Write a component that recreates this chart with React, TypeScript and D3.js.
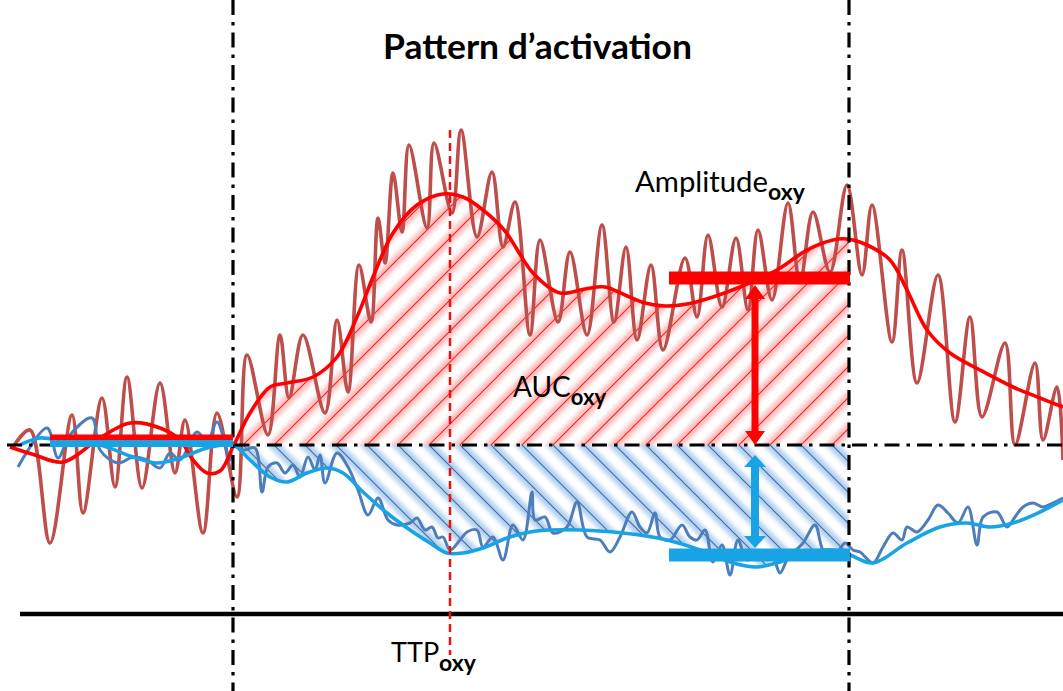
import React from "react";
import * as d3 from "d3";

const W = 1063;
const H = 691;

// time in s relative to stimulus onset, value in µM (relative to baseline)
const stimWindow = [0, 30.8];
const ttpTime = 10.85;
const baselineWindow = [-9.15, 0];
const baselineOxy = 0.375;
const baselineDeoxy = 0.075;
const amplitudeWindow = [21.8, 30.85];
const amplitudeOxy = 8.35;
const amplitudeDeoxy = -5.5;
const arrowTime = 26.1;
const arrowOxy = [0, 8.0];
const arrowDeoxy = [-0.5, -5.15];
const axisLevel = -8.45;

const redRaw: [number, number][] = [
  [-11.0, -0.1], [-10.15, 0.75], [-9.15, -4.9], [-8.05, 1.5], [-7.5, -3.4], [-6.55, 2.35],
  [-5.9, -2.1], [-5.3, 3.4], [-4.55, -2.15], [-3.65, 3.1], [-2.9, -1.4], [-2.4, 1.25],
  [-1.5, -4.4], [-0.8, 1.6], [0.2, -2.6], [0.7, 4.5], [1.75, 0.5], [2.35, 5.5], [2.8, 2.35],
  [3.5, 5.5], [4.6, 1.6], [5.2, 6.25], [5.75, 2.65], [6.3, 9.0], [6.9, 6.15], [7.25, 11.35],
  [7.6, 9.1], [8.0, 13.6], [8.45, 10.65], [8.8, 15.0], [9.7, 10.85], [10.05, 15.1],
  [10.95, 11.6], [11.4, 15.75], [12.2, 10.4], [12.95, 13.65], [13.5, 9.9], [14.1, 12.15],
  [14.85, 5.5], [15.35, 10.25], [16.25, 6.15], [16.85, 9.65], [17.7, 5.5], [18.45, 11.0],
  [19.05, 6.15], [19.65, 9.9], [20.2, 5.25], [20.9, 9.0], [21.5, 4.75], [22.6, 9.35],
  [23.2, 6.4], [23.75, 10.5], [24.45, 6.9], [25.15, 10.35], [25.75, 6.75], [26.25, 10.75],
  [26.95, 7.25], [27.75, 12.1], [28.35, 8.15], [29.0, 11.65], [29.85, 8.65], [30.7, 13.0],
  [31.45, 8.5], [31.95, 12.0], [32.95, 5.15], [33.45, 9.75], [34.2, 3.1], [35.25, 8.5],
  [36.1, 1.15], [36.85, 6.4], [37.45, 1.4], [38.6, 5.1], [39.1, 0.0], [40.1, 4.1],
  [40.5, 0.25], [41.2, 2.9], [41.5, -0.75],
];

const redSmooth: [number, number][] = [
  [-11.15, -0.1], [-9.9, -0.5], [-8.5, -0.85], [-6.65, 0.35], [-5.15, 1.1], [-3.65, 0.85],
  [-2.65, 0.25], [-2.0, -0.75], [-1.3, -1.4], [-0.65, -1.3], [0, -0.1], [0.85, 1.6],
  [1.85, 2.9], [2.7, 3.1], [4.0, 3.4], [5.2, 4.4], [6.2, 6.4], [7.0, 8.4], [8.0, 10.6],
  [9.2, 12.0], [10.5, 12.55], [11.5, 12.4], [12.5, 11.75], [13.6, 10.7],
  [15.0, 8.6], [16.35, 7.6], [17.6, 7.8], [18.6, 7.9], [19.6, 7.5], [20.6, 7.1],
  [21.6, 6.95], [22.7, 7.05], [24.0, 7.4], [25.35, 7.9], [27.2, 8.75], [28.7, 9.75],
  [30.0, 10.25], [30.7, 10.3], [31.7, 10.0], [32.85, 9.25], [33.7, 7.75], [34.7, 5.75],
  [35.85, 4.6], [37.35, 3.75], [39.0, 2.9], [40.35, 2.35], [41.5, 1.9],
];

const blueRaw: [number, number][] = [
  [-10.75, -1.1], [-9.3, 0.85], [-8.75, -0.65], [-8.15, 0.5], [-7.05, 1.35], [-6.65, -0.25],
  [-5.75, -0.9], [-5.0, -0.6], [-4.3, -0.75], [-3.65, -1.15], [-3.15, -0.4], [-2.65, -0.75],
  [-1.8, 0.65], [-1.3, 0.15], [-0.8, 1.15], [-0.15, -0.75], [0, 0.1], [0.5, -0.25],
  [1.1, -0.15], [1.45, -2.35], [1.75, -1.1], [2.2, -0.9], [2.6, -1.4], [3.0, -1.0],
  [3.35, -1.6], [3.75, -0.6], [4.1, -1.25], [4.35, -0.5], [4.6, -1.9], [5.2, -0.4],
  [5.75, -1.1], [6.25, -2.25], [6.75, -3.5], [7.25, -2.65], [7.75, -3.75], [8.2, -4.0],
  [8.85, -3.9], [9.2, -3.65], [9.6, -4.25], [9.95, -4.1], [10.25, -4.65], [10.5, -4.6],
  [10.85, -5.25], [11.35, -4.75], [11.7, -4.35], [12.2, -4.25], [12.5, -5.1], [13.0, -4.6],
  [13.5, -5.75], [14.0, -4.0], [14.5, -4.75], [14.95, -2.35], [15.1, -3.75], [15.6, -3.6],
  [16.0, -4.4], [16.7, -4.1], [17.2, -2.85], [17.7, -4.6], [18.35, -4.75], [18.85, -5.35],
  [19.35, -4.6], [19.95, -3.35], [20.35, -4.1], [20.7, -4.4], [21.1, -3.4], [21.35, -4.6],
  [21.85, -4.75], [22.45, -4.0], [22.85, -4.6], [23.2, -4.75], [23.6, -4.25], [24.0, -5.85],
  [24.45, -5.0], [24.85, -6.5], [25.25, -4.75], [25.7, -5.75], [26.35, -5.35], [27.0, -5.65],
  [27.35, -6.4], [27.75, -5.65], [28.5, -4.9], [29.1, -4.0], [29.5, -5.25], [30.0, -5.65],
  [30.6, -4.9], [31.0, -5.25], [31.35, -5.35], [32.0, -5.9], [32.5, -5.1], [33.0, -4.4],
  [33.45, -4.75], [33.7, -4.1], [34.2, -4.35], [34.75, -3.75], [35.25, -3.0], [35.75, -3.4],
  [36.25, -3.9], [36.75, -3.1], [37.2, -5.0], [37.5, -3.6], [38.2, -3.35], [38.7, -4.1],
  [39.1, -3.6], [39.5, -3.1], [40.0, -2.9], [40.5, -3.1], [41.0, -2.9], [41.5, -2.65],
];

const blueSmooth: [number, number][] = [
  [-10.65, 0], [-9.65, 0.35], [-8.3, 0.15], [-6.65, 0], [-5.0, -0.6], [-3.8, -0.9],
  [-2.65, -0.65], [-1.3, -0.15], [0, 0], [0.85, -0.75], [1.85, -1.6], [2.7, -1.85],
  [3.7, -1.4], [4.7, -1.15], [5.5, -1.4], [6.5, -2.35], [7.7, -3.4], [8.85, -4.25],
  [9.85, -4.9], [10.7, -5.4], [11.5, -5.4], [12.5, -5.15], [13.7, -4.65], [14.85, -4.35],
  [15.85, -4.25], [17.35, -4.25], [19.5, -4.4], [21.7, -4.75], [23.35, -5.25], [25.0, -5.9],
  [26.2, -6.1], [27.35, -5.85], [28.7, -5.4], [30.0, -5.25], [30.85, -5.5], [32.0, -5.9],
  [33.7, -4.9], [35.35, -4.1], [36.7, -3.9], [37.85, -4.1], [39.0, -3.9], [40.35, -3.35],
  [41.5, -2.75],
];

const domainT = [-11.3, 41.5];

const RED = "#ff0000";
const RED_RAW = "#bd4e4b";
const BLUE = "#18a3e4";
const BLUE_RAW = "#4d7dbb";
const FONT = "Lato, 'Open Sans', sans-serif";
const DASHDOT = "15,7,3.5,7";

export default function App() {
  const x = d3.scaleLinear().domain(stimWindow).range([233, 849]);
  const y = d3.scaleLinear().domain([0, 10]).range([445, 245]);

  const curve = d3.curveCatmullRom.alpha(0.5);
  const line = d3
    .line<[number, number]>()
    .x((d) => x(d[0]))
    .y((d) => y(d[1]))
    .curve(curve);
  const area = d3
    .area<[number, number]>()
    .x((d) => x(d[0]))
    .y0(y(0))
    .y1((d) => y(d[1]))
    .curve(curve);

  const y0 = y(0);
  const hatchStarts = d3.range(-30, 45).map((k) => x(0) + 10 + k * 31);
  const L = 500;

  const arrow = (t: number, a: number, b: number, color: string, hw: number, hh: number, sw: number) => {
    const xa = x(t);
    const top = Math.min(y(a), y(b));
    const bot = Math.max(y(a), y(b));
    return (
      <g>
        <line x1={xa} x2={xa} y1={top + hh - 1} y2={bot - hh + 1} stroke={color} strokeWidth={sw} />
        <path d={`M${xa},${top} L${xa - hw},${top + hh} L${xa + hw},${top + hh} Z`} fill={color} />
        <path d={`M${xa},${bot} L${xa - hw},${bot - hh} L${xa + hw},${bot - hh} Z`} fill={color} />
      </g>
    );
  };

  return (
    <svg
      width={W}
      height={H}
      style={{ position: "absolute", left: 0, top: 0, background: "#fff" }}
      xmlns="http://www.w3.org/2000/svg"
    >
      <defs>
        <clipPath id="win">
          <rect x={x(stimWindow[0])} y={0} width={x(stimWindow[1]) - x(stimWindow[0])} height={H} />
        </clipPath>
        <clipPath id="redArea">
          <path d={area(redSmooth) || ""} />
        </clipPath>
        <clipPath id="blueArea">
          <path d={area(blueSmooth) || ""} />
        </clipPath>
        <filter id="glow" x="-20%" y="-20%" width="140%" height="140%">
          <feGaussianBlur stdDeviation="2.2" />
        </filter>
      </defs>
      <rect x={0} y={0} width={W} height={H} fill="#fff" />

      {/* hatched areas */}
      <g clipPath="url(#win)">
        <g clipPath="url(#redArea)">
          <g filter="url(#glow)" opacity={0.5}>
            {hatchStarts.map((bx, i) => (
              <line key={i} x1={bx - L} y1={y0 + L} x2={bx + L} y2={y0 - L} stroke="#ff7d7d" strokeWidth={10} />
            ))}
          </g>
          {hatchStarts.map((bx, i) => (
            <line key={i} x1={bx - L} y1={y0 + L} x2={bx + L} y2={y0 - L} stroke="#ff1a1a" strokeWidth={1.1} />
          ))}
        </g>
        <g clipPath="url(#blueArea)">
          <g filter="url(#glow)" opacity={0.6}>
            {hatchStarts.map((bx, i) => (
              <line key={i} x1={bx - L} y1={y0 - L} x2={bx + L} y2={y0 + L} stroke="#7fb0e8" strokeWidth={10} />
            ))}
          </g>
          {hatchStarts.map((bx, i) => (
            <line key={i} x1={bx - L} y1={y0 - L} x2={bx + L} y2={y0 + L} stroke="#41699f" strokeWidth={1.1} />
          ))}
        </g>
      </g>

      {/* raw signals */}
      <path d={line(redRaw) || ""} fill="none" stroke={RED_RAW} strokeWidth={3.6} strokeLinejoin="round" />
      <path d={line(blueRaw) || ""} fill="none" stroke={BLUE_RAW} strokeWidth={3} strokeLinejoin="round" />

      {/* smoothed signals */}
      <path d={line(redSmooth) || ""} fill="none" stroke={RED} strokeWidth={3.6} />
      <path d={line(blueSmooth) || ""} fill="none" stroke={BLUE} strokeWidth={3.6} />

      {/* reference lines */}
      <line x1={x(domainT[0])} x2={x(domainT[1])} y1={y0} y2={y0} stroke="#000" strokeWidth={3.2} strokeDasharray={DASHDOT} />
      {stimWindow.map((t, i) => (
        <line key={i} x1={x(t)} x2={x(t)} y1={0} y2={H} stroke="#000" strokeWidth={3.2} strokeDasharray={DASHDOT} />
      ))}
      <line x1={x(-10.65)} x2={x(domainT[1])} y1={y(axisLevel)} y2={y(axisLevel)} stroke="#000" strokeWidth={4.5} />
      <line x1={x(ttpTime)} x2={x(ttpTime)} y1={y(15.75)} y2={y(-10.5)} stroke="#ee1111" strokeWidth={2.5} strokeDasharray="8,5" />

      {/* baseline bars */}
      <line x1={x(baselineWindow[0])} x2={x(baselineWindow[1])} y1={y(baselineOxy)} y2={y(baselineOxy)} stroke={RED} strokeWidth={6} />
      <line x1={x(baselineWindow[0])} x2={x(baselineWindow[1])} y1={y(baselineDeoxy)} y2={y(baselineDeoxy)} stroke={BLUE} strokeWidth={7} />

      {/* amplitude bars */}
      <line x1={x(amplitudeWindow[0])} x2={x(amplitudeWindow[1])} y1={y(amplitudeOxy)} y2={y(amplitudeOxy)} stroke={RED} strokeWidth={13} />
      <line x1={x(amplitudeWindow[0])} x2={x(amplitudeWindow[1])} y1={y(amplitudeDeoxy)} y2={y(amplitudeDeoxy)} stroke={BLUE} strokeWidth={13} />
      {arrow(arrowTime, arrowOxy[0], arrowOxy[1], RED, 10, 14, 7)}
      {arrow(arrowTime, arrowDeoxy[0], arrowDeoxy[1], BLUE, 11, 12, 8)}

      {/* texts */}
      <text x={383} y={59} fontFamily={FONT} fontWeight="bold" fontSize={34} textLength={309} lengthAdjust="spacingAndGlyphs" fill="#000">
        Pattern d’activation
      </text>
      <text x={635} y={192} fontFamily={FONT} fontSize={28} fill="#000">
        <tspan textLength={133} lengthAdjust="spacingAndGlyphs">Amplitude</tspan>
        <tspan fontWeight="bold" fontSize={23} dy={8}>oxy</tspan>
      </text>
      <text x={513} y={397} fontFamily={FONT} fontSize={28} fill="#000">
        AUC
        <tspan fontWeight="bold" fontSize={22} dy={8}>oxy</tspan>
      </text>
      <text x={391} y={662} fontFamily={FONT} fontSize={27} fill="#000">
        TTP
        <tspan fontWeight="bold" fontSize={23} dy={9}>oxy</tspan>
      </text>
    </svg>
  );
}
